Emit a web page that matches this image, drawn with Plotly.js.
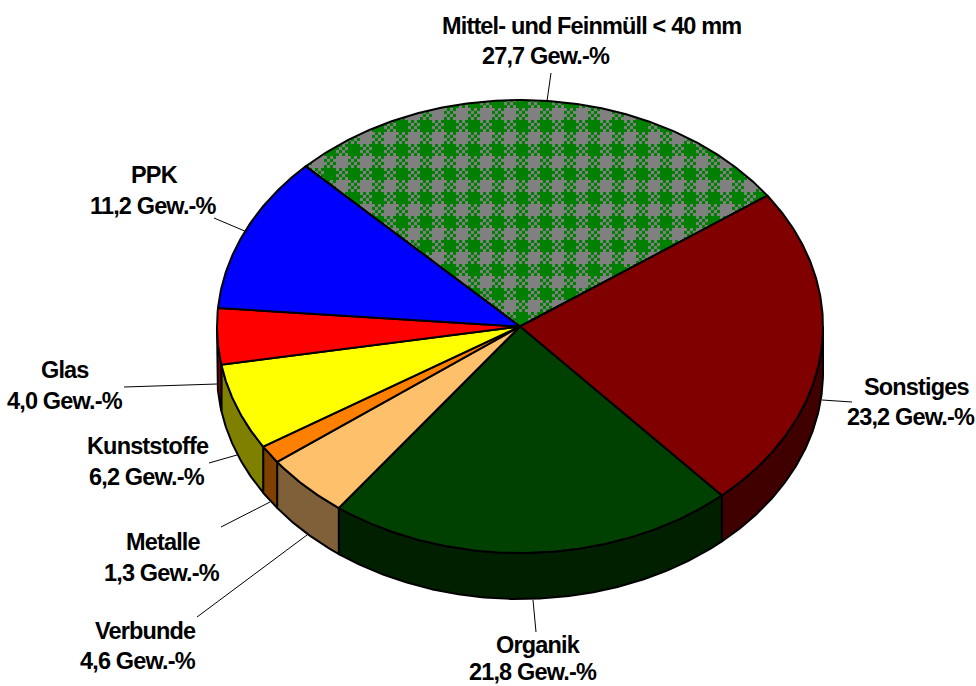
<!DOCTYPE html>
<html><head><meta charset="utf-8">
<script src="https://cdn.plot.ly/plotly-3.0.1.min.js"></script>
<style>html,body{margin:0;padding:0;background:#fff}
.annotation-text{letter-spacing:-0.85px}</style>
</head><body><div id="chart" style="width:976px;height:686px"></div>
<script>
// Data (clockwise from the start angle)
const categories = ["Mittel- und Feinmüll < 40 mm","Sonstiges","Organik","Verbunde","Metalle","Kunststoffe","Glas","PPK"];
const shares = [27.7,23.2,21.8,4.6,1.3,6.2,4.0,11.2];
// Styles
const topColors  = ["#008000","#800000","#004000","#FFC06C","#FF8000","#FFFF00","#FF0000","#0000FF"];
const wallColors = ["#004000","#400000","#002000","#806038","#804000","#808000","#800000","#000080"];
// Layout (pixels in the page)
const cx=520, cy=326.5, rx=303, ry=226.5, depth=46, startAngle=-45;
const marginL=0, marginT=12; // also sets the phase of the fill pattern
const nameXY  = [[591,26],[916,387],[538,645],[145,631],[163,542],[148,446],[65,370],[154,175]];
const valueXY = [[546,56],[911,417],[533,672],[138,661],[162,573],[147,477],[65,401],[153,206]];
const leaders = [[551,73,547,101],[822,400,852,402],[533,600,536,632],[307,535,197,617],[270,502,221,527],[237,455,209,463],[217,384,124,387],[247,232,214,218]];

const total = shares.reduce((a,b)=>a+b,0);
const pt = (deg,dy=0)=>{const r=deg*Math.PI/180;return [cx+rx*Math.sin(r),cy-ry*Math.cos(r)+dy];};
function arc(a0,a1,dy=0){const n=Math.max(2,Math.ceil(Math.abs(a1-a0)*2));const o=[];for(let i=0;i<=n;i++)o.push(pt(a0+(a1-a0)*i/n,dy));return o;}

const wallTraces=[], topTraces=[];
let a=startAngle;
shares.forEach((v,i)=>{
  const a0=a, a1=a+v/total*360; a=a1;
  const poly=[[cx,cy],...arc(a0,a1),[cx,cy]];
  const t={type:"scatter",mode:"lines",x:poly.map(p=>p[0]),y:poly.map(p=>p[1]),fill:"toself",fillcolor:topColors[i],
    line:{color:"#000",width:2},hoverinfo:"text",text:categories[i],name:categories[i]};
  if(i===0){t.fillpattern={shape:".",fgcolor:"#808080",bgcolor:"#008000",size:24,solidity:0.5,fillmode:"replace"};}
  topTraces.push(t);
  const w0=Math.max(a0,90), w1=Math.min(a1,270);
  if(w1>w0){
    const up=arc(w0,w1), dn=arc(w1,w0,depth);
    const wp=[...up,...dn,up[0]];
    wallTraces.push({type:"scatter",mode:"lines",x:wp.map(p=>p[0]),y:wp.map(p=>p[1]),fill:"toself",fillcolor:wallColors[i],
      line:{color:"#000",width:2},hoverinfo:"skip",showlegend:false});
  }
});

const fmt=v=>v.toFixed(1).replace(".",",")+" Gew.-%";
const font={family:"'Liberation Sans',Arial,sans-serif",size:23.5,color:"#000",weight:700};
const annotations=[];
categories.forEach((c,i)=>{
  annotations.push({x:nameXY[i][0],y:nameXY[i][1],xref:"x",yref:"y",text:c.replace("<","&lt;"),showarrow:false,font,xanchor:"center",yanchor:"middle"});
  annotations.push({x:valueXY[i][0],y:valueXY[i][1],xref:"x",yref:"y",text:fmt(shares[i]),showarrow:false,font,xanchor:"center",yanchor:"middle"});
});
const shapes=leaders.map(l=>({type:"line",xref:"x",yref:"y",x0:l[0],y0:l[1],x1:l[2],y1:l[3],line:{color:"#000",width:1}}));

Plotly.newPlot("chart",[...wallTraces,...topTraces],{
  width:976,height:686,margin:{l:marginL,r:0,t:marginT,b:0},showlegend:false,paper_bgcolor:"#fff",plot_bgcolor:"#fff",
  xaxis:{range:[marginL,976],visible:false,fixedrange:true},
  yaxis:{range:[686,marginT],visible:false,fixedrange:true},
  annotations,shapes
},{displayModeBar:false,staticPlot:true}).then(()=>{
  // Refine the pattern tile into the reference's dithered plaid
  const pat=document.querySelector("#chart pattern");
  if(!pat) return;
  pat.setAttribute("shape-rendering","crispEdges");
  while(pat.firstChild) pat.removeChild(pat.firstChild);
  const rect=(x,y,w,h,f)=>{const r=document.createElementNS("http://www.w3.org/2000/svg","rect");
    r.setAttribute("x",x);r.setAttribute("y",y);r.setAttribute("width",w);r.setAttribute("height",h);r.setAttribute("fill",f);pat.appendChild(r);};
  rect(0,0,24,24,"#008000");
  rect(0,0,12,12,"#808080");
  for(let c=0;c<4;c++)for(let r=0;r<4;r++){ if((c+r)%2===0){ rect(12+c*3,r*3,3,3,"#808080"); rect(c*3,12+r*3,3,3,"#808080"); } }
});
</script></body></html>
